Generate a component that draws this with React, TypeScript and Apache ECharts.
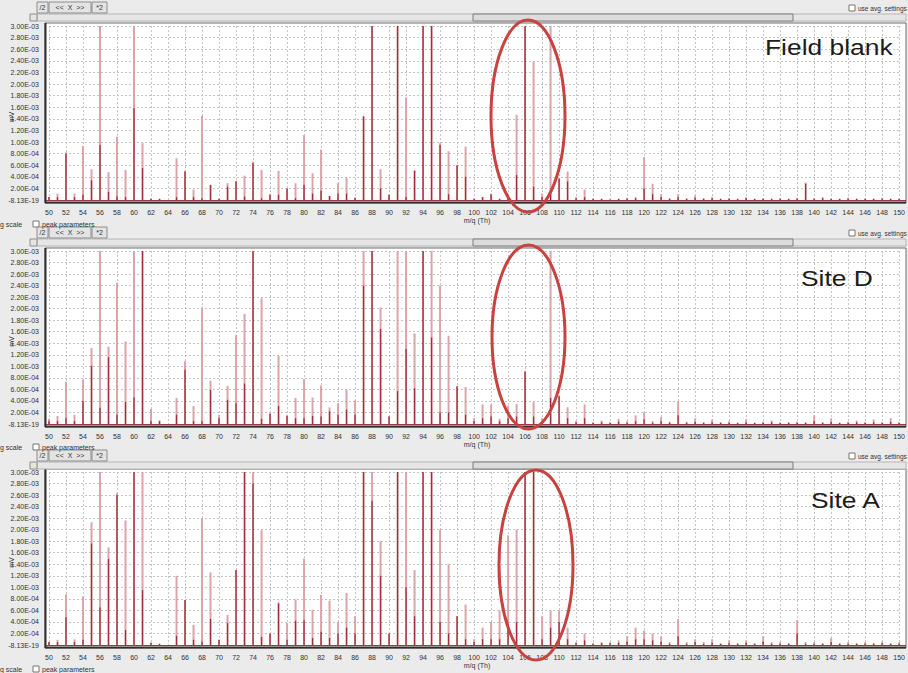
import React, { useEffect, useRef } from "react";
import * as echarts from "echarts";

// m/z (Th) positions of the peaks
const MZ: number[] = Array.from({ length: 101 }, (_, i) => 50 + i);

const Y_LABELS = [
  "-8.13E-19", "2.00E-04", "4.00E-04", "6.00E-04", "8.00E-04", "1.00E-03",
  "1.20E-03", "1.40E-03", "1.60E-03", "1.80E-03", "2.00E-03", "2.20E-03",
  "2.40E-03", "2.60E-03", "2.80E-03", "3.00E-03",
];

const TITLES = ["Field blank", "Site D", "Site A"];

// peak heights in units of 1E-03 mV, m/z 50..150 (light trace = total, dark trace = core)
const FIELD_BLANK_TOTAL = [
  0.05, 0.11, 0.82, 0.11, 0.93, 0.53, 3.0, 0.48, 1.09, 0.52,
  3.0, 0.98, 0.02, 0.02, 0, 0.72, 0.5, 0.18, 1.45, 0.26,
  0.02, 0.29, 0.33, 0.42, 0.66, 0.52, 0.1, 0.5, 0.2, 0.29,
  1.12, 0.46, 0.87, 0.07, 0.29, 0.39, 0.04, 1.45, 3.0, 0.53,
  0.09, 3.0, 1.77, 0.52, 3.0, 3.0, 0.98, 0.84, 0.6, 0.92,
  0.02, 0.05, 0.11, 0.02, 0.05, 1.47, 3.0, 2.39, 0.11, 3.0,
  0.37, 0.49, 0.05, 0.18, 0.02, 0.02, 0.01, 0.02, 0.04, 0.05,
  0.74, 0.28, 0.1, 0.03, 0.1, 0.03, 0.08, 0.03, 0.05, 0.02,
  0.03, 0.02, 0.05, 0.02, 0.03, 0.02, 0.03, 0.02, 0.04, 0.3,
  0.03, 0.05, 0.02, 0.02, 0.04, 0.02, 0.02, 0.02, 0.04, 0.02, 0.02,
];
const FIELD_BLANK_CORE = [
  0.05, 0.05, 0.8, 0.05, 0.09, 0.34, 0.95, 0.14, 0.06, 0.05,
  1.58, 0.55, 0.02, 0.02, 0, 0.05, 0.49, 0.05, 0.03, 0.26,
  0.02, 0.23, 0.32, 0.06, 0.64, 0.03, 0.09, 0.09, 0.2, 0.03,
  0.26, 0.11, 0.16, 0.07, 0.11, 0.11, 0.04, 1.44, 3.0, 0.2,
  0.09, 3.0, 0.05, 0.5, 3.0, 3.0, 0.95, 0.1, 0.6, 0.4,
  0.02, 0.05, 0.1, 0.02, 0.05, 0.43, 3.0, 0.23, 0.05, 0.11,
  0.37, 0.32, 0.03, 0.05, 0.02, 0.02, 0.01, 0.02, 0.02, 0.03,
  0.2, 0.1, 0.05, 0.02, 0.05, 0.02, 0.04, 0.02, 0.03, 0.02,
  0.02, 0.02, 0.03, 0.02, 0.02, 0.02, 0.02, 0.02, 0.02, 0.28,
  0.02, 0.03, 0.02, 0.02, 0.02, 0.02, 0.02, 0.02, 0.02, 0.02, 0.02,
];
const SITE_D_TOTAL = [
  0.09, 0.14, 0.73, 0.16, 0.77, 1.32, 3.0, 1.34, 2.45, 1.43,
  3.0, 3.0, 0.26, 0.06, 0, 0.45, 1.09, 0.31, 2.02, 0.75,
  0.16, 0.66, 1.54, 1.91, 3.0, 2.18, 0.18, 1.18, 0.16, 0.45,
  0.78, 0.46, 0.67, 0.29, 0.36, 0.6, 0.41, 3.0, 3.0, 2.02,
  0.13, 3.0, 3.0, 1.57, 3.0, 3.0, 2.4, 1.53, 0.66, 0.64,
  0.1, 0.34, 0.34, 0.09, 0.32, 0.35, 0.91, 0.38, 0.1, 3.0,
  0.48, 0.29, 0.05, 0.34, 0.03, 0.06, 0.03, 0.09, 0.05, 0.15,
  0.2, 0.05, 0.12, 0.04, 0.38, 0.04, 0.1, 0.03, 0.08, 0.03,
  0.05, 0.02, 0.08, 0.02, 0.04, 0.06, 0.02, 0.03, 0.04, 0.03,
  0.15, 0.03, 0.1, 0.02, 0.04, 0.06, 0.03, 0.08, 0.03, 0.1, 0.03,
];
const SITE_D_CORE = [
  0.05, 0.05, 0.1, 0.05, 0.4, 1.01, 0.28, 1.16, 0.16, 0.38,
  0.46, 3.0, 0.05, 0.05, 0, 0.16, 0.94, 0.05, 0.05, 0.59,
  0.1, 0.42, 0.36, 0.7, 3.0, 0.09, 0.18, 0.31, 0.14, 0.1,
  0.1, 0.14, 0.13, 0.22, 0.16, 0.25, 0.16, 2.4, 3.0, 1.65,
  0.13, 0.57, 1.3, 0.62, 3.0, 1.5, 0.2, 0.2, 0.65, 0.16,
  0.05, 0.1, 0.13, 0.05, 0.1, 0.13, 0.91, 0.13, 0.05, 0.45,
  0.48, 0.1, 0.03, 0.1, 0.02, 0.03, 0.02, 0.04, 0.02, 0.05,
  0.08, 0.02, 0.05, 0.02, 0.15, 0.02, 0.04, 0.02, 0.03, 0.02,
  0.02, 0.02, 0.03, 0.02, 0.02, 0.03, 0.02, 0.02, 0.02, 0.02,
  0.05, 0.02, 0.04, 0.02, 0.02, 0.03, 0.02, 0.03, 0.02, 0.04, 0.02,
];
const SITE_A_TOTAL = [
  0.05, 0.09, 0.88, 0.1, 0.84, 2.13, 3.0, 1.69, 2.63, 2.16,
  3.0, 3.0, 0.04, 0.02, 0, 1.2, 0.78, 0.35, 2.2, 1.26,
  0.09, 0.52, 1.3, 3.0, 3.0, 1.99, 0.2, 0.74, 0.38, 0.79,
  1.5, 0.61, 0.87, 0.77, 0.4, 0.9, 0.5, 3.0, 3.0, 1.8,
  0.2, 3.0, 3.0, 1.3, 3.0, 3.0, 2.0, 1.4, 0.5, 0.7,
  0.1, 0.3, 0.4, 0.6, 1.9, 2.0, 3.0, 3.0, 0.5, 0.6,
  0.6, 0.3, 0.05, 0.2, 0.03, 0.05, 0.05, 0.08, 0.15, 0.3,
  0.25, 0.2, 0.15, 0.05, 0.45, 0.05, 0.1, 0.05, 0.1, 0.03,
  0.08, 0.03, 0.08, 0.03, 0.15, 0.05, 0.05, 0.03, 0.43, 0.05,
  0.05, 0.03, 0.12, 0.03, 0.05, 0.03, 0.05, 0.03, 0.06, 0.03, 0.05,
];
const SITE_A_CORE = [
  0.05, 0.05, 0.48, 0.05, 0.09, 1.76, 0.65, 1.49, 2.6, 0.26,
  3.0, 0.95, 0.04, 0.02, 0, 0.16, 0.78, 0.09, 0.06, 0.45,
  0.09, 0.38, 1.3, 3.0, 2.8, 0.14, 0.2, 0.72, 0.09, 0.42,
  0.43, 0.12, 0.23, 0.12, 0.2, 0.3, 0.2, 3.0, 2.5, 1.2,
  0.2, 3.0, 1.0, 0.5, 3.0, 3.0, 0.4, 0.2, 0.5, 0.1,
  0.05, 0.1, 0.1, 0.1, 0.3, 0.4, 3.0, 3.0, 0.1, 0.3,
  0.4, 0.1, 0.03, 0.08, 0.02, 0.03, 0.03, 0.04, 0.06, 0.1,
  0.1, 0.08, 0.06, 0.02, 0.15, 0.02, 0.05, 0.02, 0.04, 0.02,
  0.03, 0.02, 0.04, 0.02, 0.06, 0.02, 0.02, 0.02, 0.2, 0.02,
  0.02, 0.02, 0.05, 0.02, 0.02, 0.02, 0.02, 0.02, 0.03, 0.02, 0.02,
];

const TOTALS = [FIELD_BLANK_TOTAL, SITE_D_TOTAL, SITE_A_TOTAL];
const CORES = [FIELD_BLANK_CORE, SITE_D_CORE, SITE_A_CORE];

// layout (pixels)
const PANELS = [
  { top: 26, bottom: 200, tb: 0, row: 224, title: [765, 47], ell: [528, 116, 37, 96] },
  { top: 251, bottom: 424, tb: 225, row: 447, title: [801, 278], ell: [528.5, 337, 36.5, 92] },
  { top: 472, bottom: 645, tb: 448, row: 669, title: [811, 500], ell: [536, 565, 37, 95] },
];
const FRAME_L = 45;
const FRAME_R = 906;
const AXIS_L = 49;
const AXIS_R = 903;
const FONT = "Liberation Sans";

function smallText(x: number, y: number, text: string, extra: any = {}) {
  return {
    type: "text",
    x,
    y,
    z: 60,
    style: {
      text,
      fontSize: 7,
      fontFamily: FONT,
      fill: "#333",
      align: "left",
      verticalAlign: "middle",
      ...extra,
    },
  };
}

function button(x: number, y: number, w: number, h: number, label: string) {
  return [
    {
      type: "rect",
      z: 55,
      shape: { x, y, width: w, height: h },
      style: { fill: "#e4e4e4", stroke: "#8c8c8c", lineWidth: 1 },
    },
    smallText(x + w / 2, y + h / 2, label, { align: "center" }),
  ];
}

function checkbox(x: number, y: number) {
  return {
    type: "rect",
    z: 55,
    shape: { x, y, width: 6, height: 6 },
    style: { fill: "#fff", stroke: "#777", lineWidth: 1 },
  };
}

export default function App() {
  const ref = useRef<HTMLDivElement>(null);

  useEffect(() => {
    if (!ref.current) return;
    const chart = echarts.init(ref.current, undefined, { renderer: "svg" });

    const grids: any[] = [];
    const xAxes: any[] = [];
    const yAxes: any[] = [];
    const series: any[] = [];
    const graphic: any[] = [];
    const gridLine = { show: true, lineStyle: { color: "#c4c4c4", type: [2, 2], width: 1 } };

    PANELS.forEach((p, k) => {
      grids.push({
        left: AXIS_L,
        width: AXIS_R - AXIS_L,
        top: p.top,
        height: p.bottom - p.top,
      });
      // visible axis (light trace)
      xAxes.push({
        gridIndex: k,
        type: "value",
        min: 50,
        max: 150,
        interval: 2,
        axisLine: { show: false },
        axisTick: { show: false },
        axisLabel: {
          fontSize: 7,
          fontFamily: FONT,
          color: "#333",
          margin: 9,
        },
        splitLine: gridLine,
      });
      // hidden twin axis (dark trace), so both traces centre on the same m/z
      xAxes.push({
        gridIndex: k,
        type: "value",
        min: 50,
        max: 150,
        interval: 2,
        show: false,
      });
      yAxes.push({
        gridIndex: k,
        type: "value",
        min: 0,
        max: 3,
        interval: 0.2,
        axisLine: { show: false },
        axisTick: { show: false },
        axisLabel: {
          fontSize: 7,
          fontFamily: FONT,
          color: "#333",
          margin: 10,
          formatter: (v: number) => Y_LABELS[Math.round(v / 0.2)] ?? "",
        },
        splitLine: gridLine,
      });
      series.push({
        type: "bar",
        xAxisIndex: 2 * k,
        yAxisIndex: k,
        barWidth: 2,
        silent: true,
        itemStyle: { color: "#dca4aa" },
        data: TOTALS[k].map((v, i) => [MZ[i], v]),
      });
      series.push({
        type: "bar",
        xAxisIndex: 2 * k + 1,
        yAxisIndex: k,
        barWidth: 1.3,
        silent: true,
        itemStyle: { color: "#a52c3c" },
        data: CORES[k].map((v, i) => [MZ[i], v]),
      });

      const fTop = p.top - 3;
      const fBot = p.bottom + 3;
      // white plot area
      graphic.push({
        type: "rect",
        z: -10,
        shape: { x: FRAME_L, y: fTop, width: FRAME_R - FRAME_L, height: fBot - fTop },
        style: { fill: "#ffffff" },
      });
      // frame
      graphic.push({
        type: "rect",
        z: 50,
        shape: { x: FRAME_L, y: fTop, width: FRAME_R - FRAME_L, height: fBot - fTop },
        style: { fill: "none", stroke: "#6e6e6e", lineWidth: 1 },
      });
      graphic.push({
        type: "line",
        z: 51,
        shape: { x1: FRAME_L + 0.5, y1: fTop, x2: FRAME_L + 0.5, y2: fBot },
        style: { stroke: "#2e2e2e", lineWidth: 2 },
      });
      graphic.push({
        type: "line",
        z: 51,
        shape: { x1: FRAME_L, y1: fBot - 0.5, x2: FRAME_R, y2: fBot - 0.5 },
        style: { stroke: "#2e2e2e", lineWidth: 2 },
      });
      graphic.push({
        type: "line",
        z: 51,
        shape: { x1: FRAME_L + 1, y1: p.bottom + 0.5, x2: FRAME_R, y2: p.bottom + 0.5 },
        style: { stroke: "#9b3a44", lineWidth: 1 },
      });

      // toolbar
      const tb = p.tb;
      graphic.push(...button(37, tb + 2, 11, 11, "/2"));
      graphic.push(...button(49, tb + 2, 42, 11, "<<  X  >>"));
      graphic.push(...button(92, tb + 2, 15, 11, "*2"));
      graphic.push({
        type: "rect",
        z: 54,
        shape: { x: 37, y: tb + 14, width: FRAME_R - 37, height: 7 },
        style: { fill: "#e6e6e6", stroke: "#b5b5b5", lineWidth: 1 },
      });
      graphic.push({
        type: "rect",
        z: 55,
        shape: { x: 473, y: tb + 14, width: 320, height: 7 },
        style: { fill: "#dcdcdc", stroke: "#7d7d7d", lineWidth: 1 },
      });
      graphic.push({
        type: "rect",
        z: 56,
        shape: { x: 30, y: tb + 14, width: 7, height: 7 },
        style: { fill: "#e4e4e4", stroke: "#8c8c8c", lineWidth: 1 },
      });
      graphic.push(checkbox(849, tb + 5));
      graphic.push(smallText(858, tb + 8, "use avg. settings", { fontSize: 6.5 }));

      // axis titles
      graphic.push({
        type: "text",
        x: 11,
        y: (p.top + p.bottom) / 2 + 4,
        rotation: Math.PI / 2,
        z: 60,
        style: {
          text: "mV",
          fontSize: 7,
          fontFamily: FONT,
          fill: "#333",
          align: "center",
          verticalAlign: "middle",
        },
      });
      graphic.push(smallText(477, p.bottom + 20, "m/q (Th)", { align: "center" }));

      // bottom row
      graphic.push(smallText(0, p.row, "g scale"));
      graphic.push(checkbox(33, p.row - 3));
      graphic.push(smallText(42, p.row, "peak parameters"));

      // annotation
      graphic.push({
        type: "text",
        x: p.title[0],
        y: p.title[1],
        scaleX: 1.2,
        z: 70,
        style: {
          text: TITLES[k],
          fontSize: 22,
          fontFamily: FONT,
          fill: "#1c1c1c",
          align: "left",
          verticalAlign: "middle",
        },
      });
      graphic.push({
        type: "ellipse",
        z: 80,
        shape: { cx: p.ell[0], cy: p.ell[1], rx: p.ell[2], ry: p.ell[3] },
        style: { fill: "none", stroke: "#c8423f", lineWidth: 3 },
      });
    });

    chart.setOption({
      animation: false,
      backgroundColor: "#ebebeb",
      grid: grids,
      xAxis: xAxes,
      yAxis: yAxes,
      series,
      graphic,
    });

    return () => chart.dispose();
  }, []);

  return (
    <div
      ref={ref}
      style={{ position: "absolute", left: 0, top: 0, width: 908, height: 673 }}
    />
  );
}
